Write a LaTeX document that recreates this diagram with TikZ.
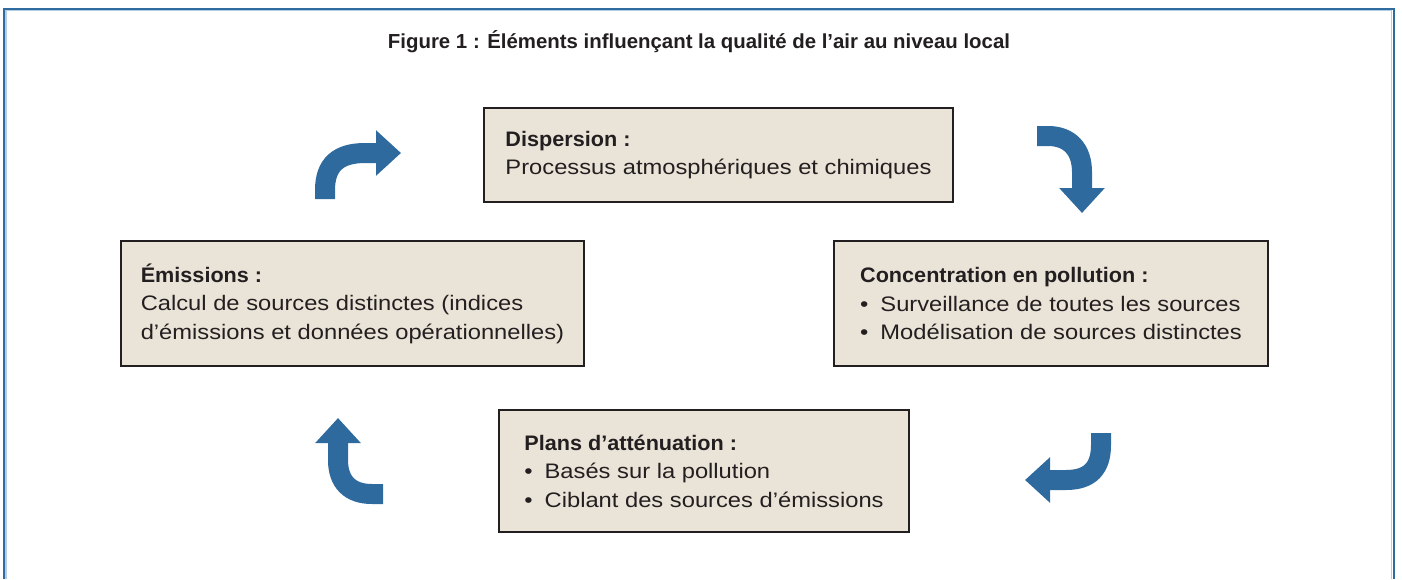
\documentclass[tikz,border=0pt]{standalone}
\usepackage{fontspec}
\newfontfamily\bodyfont{Liberation Sans}[FakeStretch=1.13]
\newfontfamily\headfont{Liberation Sans}[FakeStretch=1.03]
\newfontfamily\titlefont{Liberation Sans}[FakeStretch=1.005]
\usetikzlibrary{arrows.meta,positioning}
\definecolor{frameblue}{HTML}{2F6B9E}
\definecolor{framelight}{HTML}{B5CDE3}
\definecolor{boxfill}{HTML}{EAE4D8}
\definecolor{inkdark}{HTML}{231F20}
\definecolor{arrowblue}{HTML}{2E6A9D}
\newcommand{\heading}[1]{{\headfont\bfseries #1}}
\newcommand{\bul}{•\hspace{12pt}}
\tikzset{%
  >={Triangle[width=44pt,length=25pt]},
  % Specifications for style of nodes:
        base/.style = {rectangle, draw=inkdark, line width=2.2pt,
                       fill=boxfill, text=inkdark, align=left,
                       inner xsep=0pt, inner ysep=0pt,
                       font=\bodyfont\fontsize{21}{28.5}\selectfont},
       stage/.style = {base},
  cyclearrow/.style = {->, draw=arrowblue, line width=20pt},
}

\begin{document}
\begin{tikzpicture}[x=1pt, y=-1pt]
  \useasboundingbox (0,0) rectangle (1402,579);

  % frame, open at the bottom
  \draw [framelight, line width=1.5pt] (6,579) -- (6,10.5) -- (1391.5,10.5) -- (1391.5,579);
  \draw [frameblue, line width=2pt] (4,579) -- (4,8.5) -- (1393.5,8.5) -- (1393.5,579);

  \node (title) [anchor=base, text=inkdark,
    font=\titlefont\bfseries\fontsize{20.3}{24}\selectfont] at (699,48.5)
    {Figure 1 : Éléments influençant la qualité de l’air au niveau local};

  \node (dispersion) [stage, minimum width=469pt, minimum height=94pt] at (718.5,155)
    {\heading{Dispersion :}\\Processus atmosphériques et chimiques};
  \node (concentration) [stage, minimum width=434pt, minimum height=125pt] at (1051,303.5)
    {\heading{Concentration en pollution :}\\\bul Surveillance de toutes les sources\\\bul Modélisation de sources distinctes};
  \node (attenuation) [stage, minimum width=410pt, minimum height=122pt] at (704,471)
    {\heading{Plans d’atténuation :}\\\bul Basés sur la pollution\\\bul Ciblant des sources d’émissions};
  \node (emissions) [stage, minimum width=463pt, minimum height=125pt] at (352.5,303.5)
    {\heading{Émissions :}\\Calcul de sources distinctes (indices\\d’émissions et données opérationnelles)};

  % the cycle arrows
  \coordinate (emi-out) at (325,199);
  \coordinate (disp-in) at (401,153);
  \coordinate (disp-out) at (1037,136);
  \coordinate (conc-in) at (1082,213);
  \coordinate (conc-out) at (1101,433);
  \coordinate (att-in) at (1025,480);
  \coordinate (att-out) at (383,494);
  \coordinate (emi-in) at (338,418);

  \draw [cyclearrow] (emi-out) -- (325,190) .. controls (325,165) and (338,153) .. (365,153) -- (disp-in);
  \draw [cyclearrow] (disp-out) -- (1048,136) .. controls (1070,136) and (1082,150) .. (1082,172) -- (conc-in);
  \draw [cyclearrow] (conc-out) -- (1101,445) .. controls (1101,468) and (1090,480) .. (1066,480) -- (att-in);
  \draw [cyclearrow] (att-out) -- (372,494) .. controls (350,494) and (338,482) .. (338,460) -- (emi-in);
\end{tikzpicture}
\end{document}
